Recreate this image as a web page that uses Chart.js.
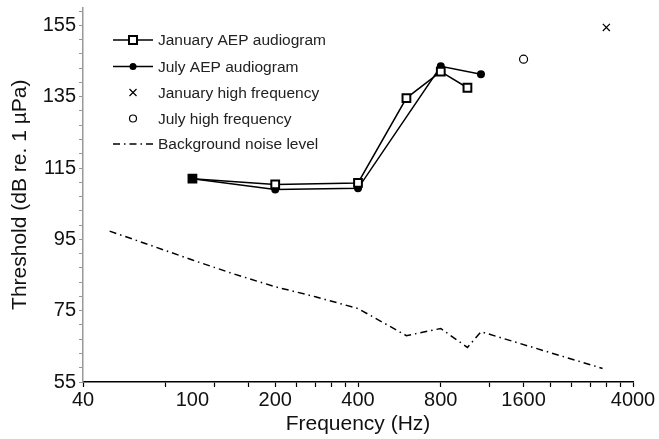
<!DOCTYPE html>
<html>
<head>
<meta charset="utf-8">
<script src="https://cdn.jsdelivr.net/npm/chart.js@4/dist/chart.umd.min.js"></script>
<style>
  html, body { margin: 0; padding: 0; background: #fff; }
  #wrap { width: 659px; height: 439px; position: relative; }
</style>
</head>
<body>
<div id="wrap"><canvas id="c" width="659" height="439"></canvas></div>
<script>
// ---- data ----
const janAEPFreq = [100, 200, 400, 600, 800, 1000];
const janAEP     = [112, 110.4, 110.8, 134.6, 142, 137.5];
const julAEPFreq = [100, 200, 400, 800, 1120];
const julAEP     = [112, 109, 109.3, 143.5, 141.3];
const janHFFreq  = [3200];
const janHF      = [154.4];
const julHFFreq  = [1600];
const julHF      = [145.5];
const noiseFreq  = [50, 70, 100, 140, 200, 280, 400, 600, 800, 1000, 1120, 3100];
const noise      = [97.3, 93.4, 89.2, 85.4, 81.7, 78.9, 75.6, 68, 70, 64.7, 69.1, 58.8];

const xTickValues = [40,80,100,120,160,200,240,280,320,360,400,800,1200,1600,2000,2400,2800,3200,3600,4000];
const xTickLabels = [40,100,200,400,800,1600,4000];
const yTickValues = [];
for (let v = 55; v <= 159; v += 4) yTickValues.push(v);
const yTickLabels = [55,75,95,115,135,155];

const legendLabels = ['January AEP audiogram','July AEP audiogram','January high frequency','July high frequency','Background noise level'];

const pts = (xs, ys) => xs.map((x, i) => ({x, y: ys[i]}));

const FONT = "'Liberation Sans', Arial, sans-serif";
const DASHDOT = [7, 4, 1.5, 4];

const legendPlugin = {
  id: 'customLegend',
  afterDraw(chart) {
    const ctx = chart.ctx;
    const x0 = 113, x1 = 153, xm = 133, tx = 158;
    const rows = [40, 66.5, 92.5, 118.5, 144];
    ctx.save();
    ctx.strokeStyle = '#000';
    ctx.fillStyle = '#000';
    ctx.lineWidth = 1.5;
    ctx.beginPath(); ctx.moveTo(x0, rows[0]); ctx.lineTo(x1, rows[0]); ctx.stroke();
    ctx.fillStyle = '#fff'; ctx.lineWidth = 2;
    ctx.fillRect(xm - 4, rows[0] - 4, 8, 8); ctx.strokeRect(xm - 4, rows[0] - 4, 8, 8);
    ctx.lineWidth = 1.5; ctx.fillStyle = '#000';
    ctx.beginPath(); ctx.moveTo(x0, rows[1]); ctx.lineTo(x1, rows[1]); ctx.stroke();
    ctx.beginPath(); ctx.arc(xm, rows[1], 3.5, 0, Math.PI * 2); ctx.fill();
    ctx.lineWidth = 1.2;
    ctx.beginPath();
    ctx.moveTo(xm - 3.5, rows[2] - 3.5); ctx.lineTo(xm + 3.5, rows[2] + 3.5);
    ctx.moveTo(xm + 3.5, rows[2] - 3.5); ctx.lineTo(xm - 3.5, rows[2] + 3.5);
    ctx.stroke();
    ctx.beginPath(); ctx.arc(xm, rows[3], 3.5, 0, Math.PI * 2); ctx.stroke();
    ctx.lineWidth = 1.5; ctx.setLineDash(DASHDOT);
    ctx.beginPath(); ctx.moveTo(x0, rows[4]); ctx.lineTo(x1, rows[4]); ctx.stroke();
    ctx.setLineDash([]);
    ctx.fillStyle = '#222';
    ctx.font = '15.5px ' + FONT;
    ctx.textBaseline = 'middle';
    ctx.textAlign = 'left';
    legendLabels.forEach((t, i) => ctx.fillText(t, tx, rows[i] + 1));
    ctx.restore();
  }
};

new Chart(document.getElementById('c'), {
  type: 'scatter',
  data: {
    datasets: [
      { label: legendLabels[0], data: pts(janAEPFreq, janAEP), showLine: true,
        borderColor: '#000', borderWidth: 1.5,
        pointStyle: 'rect', pointRadius: 5.5, pointBorderWidth: 2, pointBorderColor: '#000',
        pointBackgroundColor: janAEPFreq.map((f, i) => i === 0 ? '#000' : '#fff') },
      { label: legendLabels[1], data: pts(julAEPFreq, julAEP), showLine: true,
        borderColor: '#000', borderWidth: 1.5,
        pointStyle: 'circle', pointRadius: 4, pointBorderWidth: 0, pointBackgroundColor: '#000' },
      { label: legendLabels[2], data: pts(janHFFreq, janHF), showLine: false,
        pointStyle: 'crossRot', pointRadius: 5, pointBorderWidth: 1.2, pointBorderColor: '#000' },
      { label: legendLabels[3], data: pts(julHFFreq, julHF), showLine: false,
        pointStyle: 'circle', pointRadius: 4, pointBorderWidth: 1.2, pointBorderColor: '#000', pointBackgroundColor: '#fff' },
      { label: legendLabels[4], data: pts(noiseFreq, noise), showLine: true,
        borderColor: '#000', borderWidth: 1.5, borderDash: DASHDOT, pointRadius: 0 }
    ]
  },
  options: {
    responsive: false,
    animation: false,
    devicePixelRatio: 1,
    layout: { padding: { top: 7, right: 26, left: 0, bottom: 0 } },
    plugins: { legend: { display: false }, tooltip: { enabled: false } },
    elements: { line: { tension: 0 } },
    scales: {
      x: {
        type: 'logarithmic', min: 40, max: 4000,
        afterBuildTicks: s => { s.ticks = xTickValues.map(v => ({ value: v })); },
        afterFit: s => { s.height = 57; },
        ticks: {
          autoSkip: false, maxRotation: 0, padding: 1,
          color: '#111', font: { family: FONT, size: 20 },
          callback: v => xTickLabels.includes(v) ? String(v) : ''
        },
        grid: {
          drawOnChartArea: false, drawTicks: true, tickLength: 5,
          tickColor: c => (c.tick && c.tick.value === 100) ? 'rgba(0,0,0,0)' : '#000',
          tickWidth: 1.2
        },
        border: { color: '#000', width: 1.6 },
        title: { display: true, text: 'Frequency (Hz)', color: '#111',
                 font: { family: FONT, size: 21 }, padding: { top: 0, bottom: 2 } }
      },
      y: {
        type: 'linear', min: 55, max: 160,
        afterBuildTicks: s => { s.ticks = yTickValues.map(v => ({ value: v })); },
        afterFit: s => { s.width = 83; s.paddingTop = 0; s.paddingBottom = 0; },
        ticks: {
          autoSkip: false, padding: 3,
          color: '#111', font: { family: FONT, size: 20 },
          callback: v => yTickLabels.includes(v) ? String(v) : ''
        },
        grid: { drawOnChartArea: false, drawTicks: true, tickLength: 4, tickColor: '#999', tickWidth: 1 },
        border: { color: '#999', width: 1.5 },
        title: { display: true, text: 'Threshold (dB re. 1 µPa)', color: '#111',
                 font: { family: FONT, size: 21 }, padding: { top: 8, bottom: 0 } }
      }
    }
  },
  plugins: [legendPlugin]
});
</script>
</body>
</html>
